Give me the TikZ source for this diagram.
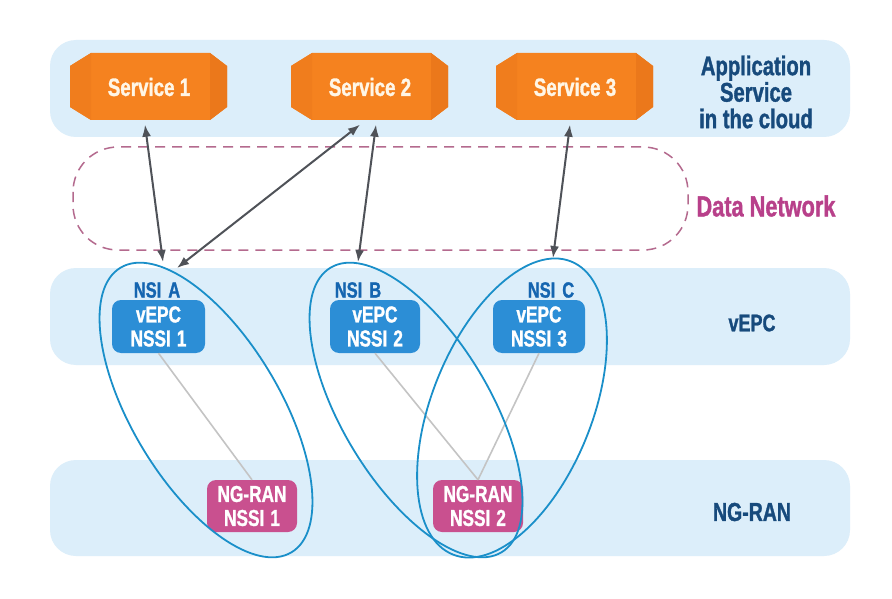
\documentclass[tikz,border=0pt]{standalone}
\usepackage{fontspec}
\newfontfamily\cf{Liberation Sans Bold}[FakeStretch=0.75,FakeBold=1.2]
\usetikzlibrary{arrows.meta}
\definecolor{band}{HTML}{DCEEFA}
\definecolor{orangemain}{HTML}{F5821F}
\definecolor{orangeleft}{HTML}{F07D1D}
\definecolor{orangeright}{HTML}{EB781B}
\definecolor{darkblue}{HTML}{174A7C}
\definecolor{nsiblue}{HTML}{1565B0}
\definecolor{epcbox}{HTML}{2C8ED6}
\definecolor{ranbox}{HTML}{C9508F}
\definecolor{dnpink}{HTML}{B8408A}
\definecolor{dashcol}{HTML}{B46A8E}
\definecolor{ellcol}{HTML}{1A8FC9}
\definecolor{linkgrey}{HTML}{C4C4C4}
\definecolor{arrowgrey}{HTML}{4F5258}
\definecolor{cream}{HTML}{FFF6E6}
\begin{document}
\begin{tikzpicture}[x=1pt,y=-1pt,
  bandbox/.style={fill=band, rounded corners=26pt},
  service/.style={rectangle, minimum width=157pt, minimum height=67pt, inner sep=0pt,
    text=cream, font=\cf\fontsize{25}{26}\selectfont},
  epc/.style={fill=epcbox, rounded corners=9pt, minimum height=53pt, inner sep=0pt, align=center,
    text=white, font=\cf\fontsize{23}{24}\selectfont},
  ran/.style={fill=ranbox, rounded corners=9pt, minimum width=90pt, minimum height=52pt, inner sep=0pt, align=center,
    text=white, font=\cf\fontsize{23}{24}\selectfont},
  nsilabel/.style={text=nsiblue, font=\cf\fontsize{22}{24}\selectfont, inner sep=0pt},
  layerlabel/.style={text=darkblue, font=\cf\fontsize{27}{26.5}\selectfont, align=center, inner sep=0pt},
  nsiline/.style={draw=ellcol, line width=1.8pt},
  link/.style={draw=linkgrey, line width=1.6pt},
  biarrow/.style={draw=arrowgrey, line width=2pt, {Latex[length=12pt,width=9pt]}-{Latex[length=12pt,width=9pt]}}
]
\useasboundingbox (0,0) rectangle (892,599);
\fill[white] (0,0) rectangle (892,599);

% layers
\fill[bandbox] (50,40) rectangle (850,137);
\fill[bandbox] (50,268) rectangle (850,365);
\fill[bandbox] (50,460) rectangle (850,556);
\draw[dashcol, line width=1.5pt, dash pattern=on 10pt off 7pt, rounded corners=45pt] (73,147) rectangle (688,250);

% services (bodies drawn behind their text)
\foreach \n/\x in {1/149,2/370,3/575}{
  \coordinate (sc\n) at (\x,87);
  \fill[orangemain] ([shift={(-58,-34)}]sc\n) -- ([shift={(61,-34)}]sc\n) -- ([shift={(78,-21)}]sc\n)
     -- ([shift={(78,20)}]sc\n) -- ([shift={(61,33)}]sc\n) -- ([shift={(-58,33)}]sc\n)
     -- ([shift={(-79,20)}]sc\n) -- ([shift={(-79,-21)}]sc\n) -- cycle;
  \fill[orangeleft] ([shift={(-58,-34)}]sc\n) -- ([shift={(-58,33)}]sc\n) -- ([shift={(-79,20)}]sc\n) -- ([shift={(-79,-21)}]sc\n) -- cycle;
  \fill[orangeright] ([shift={(61,-34)}]sc\n) -- ([shift={(78,-21)}]sc\n) -- ([shift={(78,20)}]sc\n) -- ([shift={(61,33)}]sc\n) -- cycle;
}
\node[service] (s1) at (sc1) {Service 1};
\node[service] (s2) at (sc2) {Service 2};
\node[service] (s3) at (sc3) {Service 3};

% layer labels
\node[layerlabel] (app) at (756,92) {Application\\Service\\in the cloud};
\node[layerlabel, text=dnpink, font=\cf\fontsize{29}{28}\selectfont] (dn) at (766,206) {Data Network};
\node[layerlabel, font=\cf\fontsize{24}{26}\selectfont] (vepc) at (752,323) {vEPC};
\node[layerlabel, font=\cf\fontsize{26}{26}\selectfont] (ngran) at (752,512) {NG-RAN};

% NSSI boxes
\node[epc, minimum width=93pt] (e1) at (158.5,326.5) {vEPC\\NSSI\hspace{6pt}1};
\node[epc, minimum width=90pt] (e2) at (375,326.5) {vEPC\\NSSI\hspace{6pt}2};
\node[epc, minimum width=92pt] (e3) at (539,326.5) {vEPC\\NSSI\hspace{6pt}3};
\node[ran] (r1) at (252,506) {NG-RAN\\NSSI\hspace{6pt}1};
\node[ran] (r2) at (478,506) {NG-RAN\\NSSI\hspace{6pt}2};

% NSI labels
\node[nsilabel] (la) at (157,290) {NSI\hspace{7pt}A};
\node[nsilabel] (lb) at (358,290) {NSI\hspace{7pt}B};
\node[nsilabel] (lc) at (551,290) {NSI\hspace{7pt}C};

% links
\draw[link] (e1.south) -- (r1.north);
\draw[link] (e2.south) -- (r2.north);
\draw[link] (e3.south) -- (r2.north);

% NSI ellipses
\draw[nsiline, rotate around={31:(206,410)}] (206,410) ellipse [x radius=74, y radius=166];
\draw[nsiline, rotate around={31:(416,410)}] (416,410) ellipse [x radius=74, y radius=166];
\draw[nsiline, rotate around={-22:(512,408)}] (512,408) ellipse [x radius=80, y radius=158];

% arrow end points on the slices
\coordinate (ta1) at (163,262);
\coordinate (ta2) at (177,268);
\coordinate (tb) at (358,262);
\coordinate (tc) at (553,258);

\draw[biarrow] ([xshift=-4pt,yshift=-4pt]s1.south) -- (ta1);
\draw[biarrow] ([xshift=-10pt,yshift=-4pt]s2.south) -- (ta2);
\draw[biarrow] ([xshift=6pt,yshift=-4pt]s2.south) -- (tb);
\draw[biarrow] ([xshift=-5pt,yshift=-4pt]s3.south) -- (tc);
\end{tikzpicture}
\end{document}
